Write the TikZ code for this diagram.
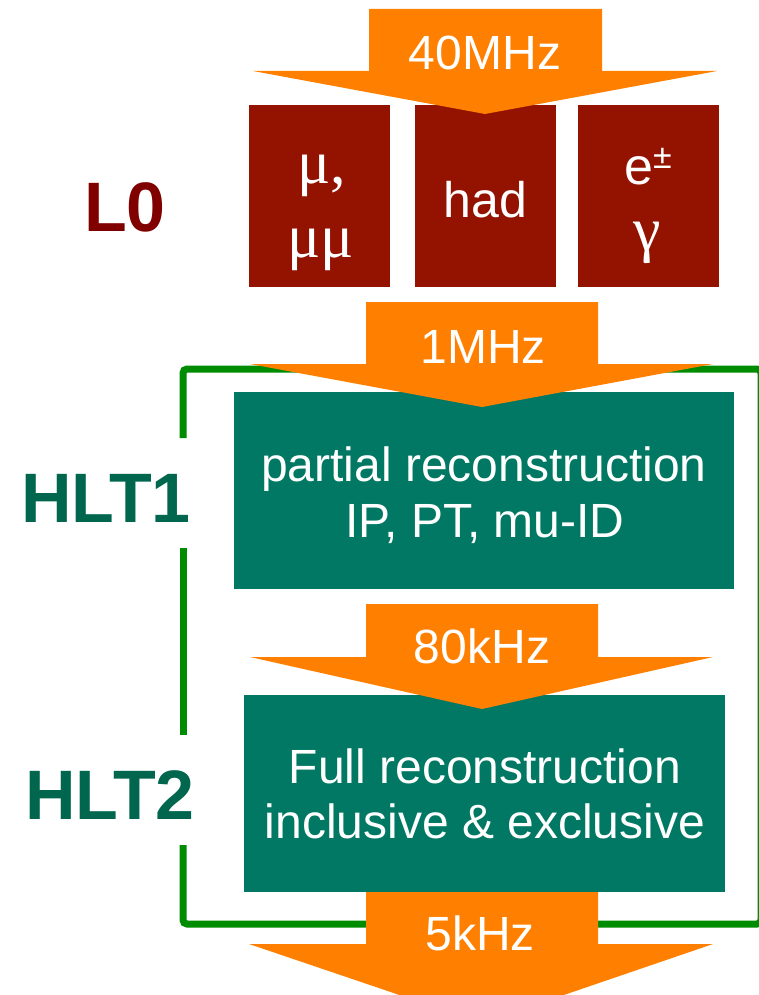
\documentclass[tikz,border=0pt]{standalone}
\usepackage{fontspec}
\setmainfont{Liberation Sans}
\newfontfamily\grk{Liberation Serif}
\definecolor{flowor}{RGB}{255,128,0}
\definecolor{lzred}{RGB}{148,18,0}
\definecolor{lztext}{RGB}{128,0,0}
\definecolor{hltbox}{RGB}{0,120,99}
\definecolor{hlttext}{RGB}{0,102,78}
\definecolor{brgreen}{RGB}{0,140,0}
\begin{document}
\begin{tikzpicture}[x=1pt,y=-1pt,
  redbox/.style={fill=lzred,draw=none,anchor=north west,inner sep=0},
  tealbox/.style={fill=hltbox,draw=none,anchor=north west,inner sep=0},
  flow/.style={fill=flowor,draw=none},
  wtxt/.style={text=white,anchor=base,inner sep=0,font=\fontsize{48}{48}\selectfont},
  gtxt/.style={text=white,anchor=base,inner sep=0,font=\grk\fontsize{62}{62}\selectfont},
  lvl/.style={anchor=base,inner sep=0,font=\bfseries\fontsize{70}{70}\selectfont},
  bracket/.style={draw=brgreen,line width=7pt,rounded corners=4pt}]
\useasboundingbox (0,0) rectangle (759,995);

% green bracket
\coordinate (b1) at (183,438);
\coordinate (b2) at (183,548);
\coordinate (b3) at (183,735);
\coordinate (b4) at (183,845);
\draw[bracket] (b1) -- (183,369) -- (761,369) -- (761,924) -- (183,924) -- (b4);
\draw[bracket] (b2) -- (b3);

% L0 boxes
\node[redbox,minimum width=141,minimum height=182] (mu) at (249,105) {};
\node[redbox,minimum width=141,minimum height=182] (had) at (415,105) {};
\node[redbox,minimum width=141,minimum height=182] (eg) at (578,105) {};

% HLT boxes
\node[tealbox,minimum width=500,minimum height=197] (hlt1) at (234,392) {};
\node[tealbox,minimum width=481,minimum height=197] (hlt2) at (244,695) {};

% flow arrows
\fill[flow] (369,9) -- (602,9) -- (602,71) -- (717,71) -- (485,114) -- (253,71) -- (369,71) -- cycle;
\fill[flow] (366,302) -- (598,302) -- (598,364) -- (713,364) -- (482,407) -- (250,364) -- (366,364) -- cycle;
\fill[flow] (366,604) -- (598,604) -- (598,657) -- (713,657) -- (482,709) -- (250,657) -- (366,657) -- cycle;
\fill[flow] (366,892) -- (598,892) -- (598,944) -- (713,944) -- (482,1023) -- (249,944) -- (366,944) -- cycle;

% rates
\node[wtxt] (r40) at (485,70) {40MHz};
\node[wtxt] (r1) at (483,363) {1MHz};
\node[wtxt] (r80) at (482,663) {80kHz};
\node[wtxt] (r5) at (480,950) {5kHz};

% L0 box texts
\node[gtxt] (mu1) at (322,183) {μ,};
\node[gtxt] (mu2) at (321,257) {μμ};
\node[wtxt,font=\fontsize{50}{50}\selectfont] (hadt) at (485.5,217) {had};
\node[wtxt,font=\fontsize{52}{52}\selectfont] (et) at (648,185) {e\raisebox{16pt}{\fontsize{34}{34}\selectfont ±}};
\node[gtxt] (gam) at (647,250) {γ};

% HLT texts
\node[wtxt] (h1a) at (484,481) {partial reconstruction};
\node[wtxt] (h1b) at (485,537) {IP, PT, mu-ID};
\node[wtxt] (h2a) at (485,783) {Full reconstruction};
\node[wtxt] (h2b) at (485,838) {inclusive \& exclusive};

% level labels
\node[lvl,text=lztext] (l0) at (125,231) {L0};
\node[lvl,text=hlttext] (hl1) at (106,522) {HLT1};
\node[lvl,text=hlttext] (hl2) at (110,819) {HLT2};
\end{tikzpicture}
\end{document}
